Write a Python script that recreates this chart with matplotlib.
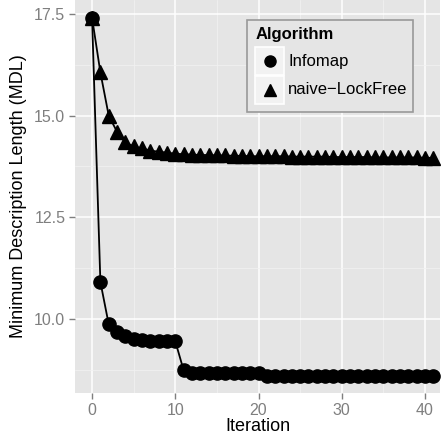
import matplotlib.pyplot as plt
from matplotlib.lines import Line2D
from matplotlib.patches import Rectangle

plt.rcParams['font.family'] = ['Liberation Sans', 'DejaVu Sans']

iteraciones = list(range(42))
infomap = [17.4, 10.91, 9.87, 9.67, 9.58, 9.51, 9.48, 9.46, 9.45, 9.45, 9.45,
           8.74] + [8.68] * 9 + [8.60] * 21
lockfree = [17.4, 16.06, 15.0, 14.6, 14.34, 14.24, 14.19, 14.14, 14.11, 14.09, 14.06,
            14.05, 14.04, 14.03, 14.03, 14.02, 14.02, 14.01, 14.01, 14.0, 14.0,
            14.0, 14.0, 14.0, 13.99, 13.99, 13.99, 13.99, 13.99, 13.98, 13.98,
            13.98, 13.98, 13.98, 13.97, 13.97, 13.97, 13.97, 13.97, 13.97, 13.96, 13.96]
etiquetas = ['Infomap', 'naive\u2212LockFree']
marcadores = ['o', '^']

W, H = 443, 444
fig = plt.figure(figsize=(W/100, H/100), dpi=100)
ax = fig.add_axes([75/W, 51/H, 365/W, 393/H])
ax.set_facecolor('#e5e5e5')
for s in ax.spines.values():
    s.set_visible(False)

ax.set_xlim(-2.05, 41.8)
ax.set_ylim(8.18, 17.84)
ax.set_xticks([0, 10, 20, 30, 40])
ax.set_yticks([10.0, 12.5, 15.0, 17.5])
ax.set_yticklabels(['10.0', '12.5', '15.0', '17.5'])
ax.set_xticks([5, 15, 25, 35], minor=True)
ax.set_yticks([8.75, 11.25, 13.75, 16.25], minor=True)
ax.grid(which='major', color='white', lw=1.1)
ax.grid(which='minor', color='#f2f2f2', lw=0.5)
ax.set_axisbelow(True)
ax.tick_params(which='major', labelsize=11.5, length=4, width=1, color='#7f7f7f',
               labelcolor='#7f7f7f', pad=3)
ax.tick_params(which='minor', length=0)

ax.plot(iteraciones, lockfree, color='black', lw=1.3, marker='^', ms=10.5)
ax.plot(iteraciones, infomap, color='black', lw=1.3, marker='o', ms=9.5)

ax.set_xlabel('Iteration', fontsize=13, labelpad=0)
ax.set_ylabel('Minimum Description Length (MDL)', fontsize=13, labelpad=5)

# leyenda dibujada a mano (pixeles desde arriba a la izquierda)
def px(x, y):
    return x / W, 1 - y / H

tf = fig.transFigure
fig.patches.append(Rectangle(px(247, 112), 166/W, 92/H, transform=tf,
                             facecolor='#e5e5e5', edgecolor='#999999', lw=1.2, zorder=5))
fig.text(*px(256, 34), 'Algorithm', fontsize=12, fontweight='bold',
         va='center', ha='left', zorder=6)
for i, (lab, m) in enumerate(zip(etiquetas, marcadores)):
    y0 = 47 + 28.5 * i
    fig.patches.append(Rectangle(px(255, y0 + 28.5), 29/W, 28.5/H, transform=tf,
                                 facecolor='#f2f2f2', edgecolor='white', lw=1.2, zorder=6))
    cx, cy = px(269.5, y0 + 14.25)
    fig.lines.append(Line2D([cx], [cy], transform=tf, color='black', marker=m,
                            ms=8 if m == 'o' else 9, ls='', zorder=7))
    fig.text(*px(288, y0 + 14.25), lab, fontsize=12, va='center', ha='left', zorder=7)

fig.savefig('out.png', dpi=100)
